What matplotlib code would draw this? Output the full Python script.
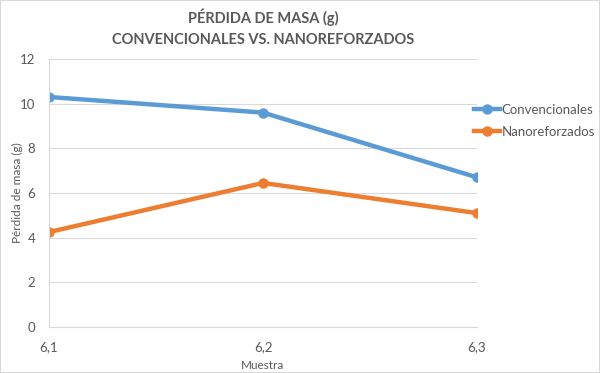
import matplotlib
matplotlib.use("Agg")
import matplotlib.pyplot as plt
from matplotlib.lines import Line2D
from matplotlib.patches import Rectangle

plt.rcParams['font.family'] = ['Lato', 'DejaVu Sans']

muestra = [6.1, 6.2, 6.3]
convencionales = [10.3, 9.6, 6.7]
nanoreforzados = [4.25, 6.45, 5.1]
x_ticks = [6.1, 6.2, 6.3]
x_labels = ["6,1", "6,2", "6,3"]
y_ticks = [0, 2, 4, 6, 8, 10, 12]

blue = "#5B9BD5"
orange = "#ED7D31"
gray = "#595959"

fig = plt.figure(figsize=(6.0, 3.73), dpi=100)
ax = fig.add_axes([49/600, 1 - 327/373, (477-49)/600, (327-59)/373])

ax.plot(muestra, convencionales, color=blue, lw=3.2, marker='o', ms=6.5, label="Convencionales", solid_capstyle='round')
ax.plot(muestra, nanoreforzados, color=orange, lw=3.2, marker='o', ms=6.5, label="Nanoreforzados", solid_capstyle='round')

ax.set_xlim(6.1, 6.3)
ax.set_ylim(0, 12)
ax.set_yticks(y_ticks)
ax.set_yticklabels([str(v) for v in y_ticks])
ax.set_xticks(x_ticks)
ax.set_xticklabels(x_labels)
ax.grid(axis='y', color='#D9D9D9', lw=0.8)
ax.set_axisbelow(True)
for s in ['top', 'right']:
    ax.spines[s].set_visible(False)
for s in ['left', 'bottom']:
    ax.spines[s].set_color('#D9D9D9')
    ax.spines[s].set_linewidth(0.8)
ax.tick_params(axis='both', length=0, colors=gray, labelsize=9.5)
ax.tick_params(axis='x', pad=10)
ax.tick_params(axis='y', pad=10)
ax.set_xlabel("Muestra", color=gray, fontsize=8.5, labelpad=5)
fig.text(17/600, 1 - 193/373, "Pérdida de masa (g)", rotation=90, ha='center', va='center',
         color=gray, fontsize=8.5)

fig.text(263/600, 1 - 17/373, "PÉRDIDA DE MASA (g)", ha='center', va='center',
         fontsize=10.5, fontweight='bold', color=gray)
fig.text(263/600, 1 - 40/373, "CONVENCIONALES VS. NANOREFORZADOS", ha='center', va='center',
         fontsize=10.5, fontweight='bold', color=gray)

handles = [Line2D([], [], color=blue, lw=3.2, marker='o', ms=6.5),
           Line2D([], [], color=orange, lw=3.2, marker='o', ms=6.5)]
fig.legend(handles, ["Convencionales", "Nanoreforzados"], loc='upper left',
           bbox_to_anchor=(470/600, 1 - 100/373), frameon=False, fontsize=9.5,
           handlelength=2.0, handletextpad=0.1, labelspacing=0.75, labelcolor=gray,
           borderaxespad=0, borderpad=0.3)

fig.patches.append(Rectangle((0, 0), 1, 1, transform=fig.transFigure, fill=False,
                             edgecolor='#D9D9D9', lw=1.5))

fig.savefig("out.png", dpi=100)
